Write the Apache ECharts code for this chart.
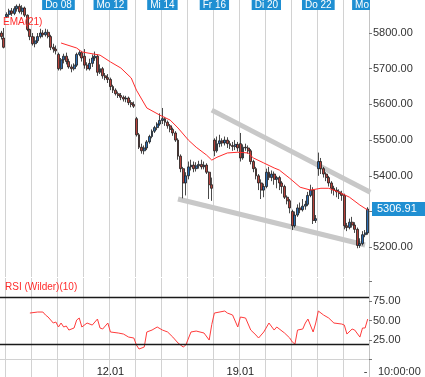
<!DOCTYPE html>
<html><head><meta charset="utf-8">
<script src="https://cdn.jsdelivr.net/npm/echarts@6/dist/echarts.min.js"></script>
<style>html,body{margin:0;padding:0;background:#fff}#c{width:425px;height:377px}</style>
</head><body><div id="c"></div><script>
const dayNames = ['Mo 05','Di 06','Mi 07','Do 08','Fr 09','Mo 12','Di 13','Mi 14','Do 15','Fr 16','Mo 19','Di 20','Mi 21','Do 22','Fr 23'];
const dayDates = ['05.01','06.01','07.01','08.01','09.01','12.01','13.01','14.01','15.01','16.01','19.01','20.01','21.01','22.01','23.01'];
const hours = ['08:00','09:00','10:00','11:00','12:00','13:00','14:00','15:00','16:00','17:00'];
const topLabelDays = ['Do 08','Mo 12','Mi 14','Fr 16','Di 20','Do 22'];
const nextDayLabel = 'Mo 26';
const bottomLabelDates = ['12.01','19.01'];
const priceTicks = [5200,5300,5400,5500,5600,5700,5800];
const rsiTickMarks = [0,25,50,75,100];
const rsiTicks = [25,50,75];
const rsiBands = [80,20];
const lastTimeLabel = '10:00:00';

// [open, close, low, high]
const ohlc = [
[5800,5790,5782,5806],[5786,5760,5757,5814],[5846,5852,5842,5858],[5852,5862,5845,5868],[5862,5855,5848,5870],
[5855,5868,5850,5875],[5868,5875,5860,5880],[5875,5860,5855,5882],[5860,5870,5852,5878],[5870,5850,5845,5874],
[5850,5810,5805,5852],[5810,5790,5780,5812],[5790,5770,5765,5800],[5770,5778,5760,5790],[5778,5790,5772,5800],
[5790,5800,5785,5812],[5800,5795,5788,5808],[5795,5802,5790,5812],[5802,5790,5785,5810],[5790,5760,5752,5795],
[5760,5755,5745,5770],[5755,5750,5740,5765],[5740,5700,5695,5745],[5700,5725,5695,5730],[5725,5735,5715,5742],
[5735,5720,5712,5745],[5720,5705,5700,5728],[5705,5700,5690,5712],[5700,5710,5695,5715],[5710,5740,5705,5745],
[5740,5745,5735,5752],[5745,5730,5720,5750],[5735,5710,5700,5755],[5710,5700,5695,5718],[5700,5715,5695,5728],
[5715,5730,5705,5740],[5730,5735,5722,5748],[5735,5690,5680,5740],[5690,5700,5685,5712],[5700,5680,5672,5705],
[5680,5675,5668,5688],[5675,5670,5660,5685],[5670,5650,5640,5675],[5650,5640,5632,5655],[5640,5630,5625,5645],
[5630,5625,5618,5636],[5625,5620,5612,5632],[5620,5615,5608,5625],[5615,5618,5606,5624],[5618,5605,5598,5622],
[5605,5600,5592,5612],[5600,5595,5590,5608],[5560,5515,5510,5565],[5515,5480,5475,5520],[5480,5470,5462,5490],
[5470,5478,5460,5485],[5478,5495,5472,5500],[5495,5510,5490,5515],[5510,5525,5505,5530],[5525,5535,5520,5540],
[5535,5545,5528,5550],[5545,5555,5540,5575],[5555,5560,5545,5590],[5560,5550,5540,5565],[5550,5540,5532,5555],
[5540,5530,5522,5545],[5530,5520,5512,5535],[5520,5500,5495,5525],[5500,5455,5445,5505],[5455,5420,5410,5460],
[5420,5380,5337,5425],[5380,5400,5345,5410],[5400,5425,5390,5440],[5425,5430,5415,5445],[5430,5420,5410,5440],
[5420,5428,5412,5438],[5428,5432,5420,5442],[5432,5425,5418,5445],[5425,5430,5418,5440],[5430,5410,5405,5435],
[5410,5375,5335,5412],[5375,5365,5330,5395],[5500,5470,5455,5505],[5470,5490,5465,5510],[5490,5498,5480,5515],
[5498,5492,5482,5505],[5492,5500,5485,5510],[5500,5490,5478,5508],[5490,5485,5475,5498],[5485,5482,5470,5495],
[5482,5488,5472,5500],[5488,5478,5468,5495],[5490,5450,5440,5520],[5450,5480,5445,5488],[5480,5478,5470,5490],
[5478,5470,5462,5485],[5470,5440,5432,5475],[5440,5420,5410,5445],[5420,5400,5390,5425],[5400,5380,5360,5405],
[5380,5360,5335,5390],[5360,5370,5340,5378],[5370,5410,5365,5420],[5410,5395,5388,5425],[5395,5405,5385,5415],
[5405,5390,5375,5412],[5390,5395,5365,5400],[5395,5380,5360,5400],[5380,5370,5350,5385],[5370,5340,5335,5375],
[5340,5330,5320,5345],[5330,5310,5295,5335],[5300,5260,5248,5305],[5260,5290,5255,5300],[5290,5310,5285,5320],
[5310,5305,5295,5325],[5305,5315,5300,5335],[5315,5320,5305,5330],[5320,5345,5315,5355],[5345,5360,5340,5375],
[5360,5275,5265,5368],[5275,5280,5268,5290],[5420,5440,5400,5465],[5440,5420,5405,5450],[5420,5405,5395,5425],
[5405,5395,5385,5410],[5395,5380,5370,5400],[5380,5365,5350,5385],[5365,5360,5345,5372],[5360,5355,5340,5368],
[5355,5350,5335,5362],[5350,5345,5330,5358],[5345,5260,5250,5350],[5260,5255,5245,5268],[5255,5270,5250,5280],
[5270,5262,5255,5285],[5262,5250,5240,5270],[5250,5205,5197,5255],[5205,5210,5198,5225],[5210,5235,5205,5245],
[5235,5240,5228,5248],[5240,5306.91,5235,5312]
];

// EMA(21): [bar index, value]
const emaPoints = [
[23,5772],[29,5758],[31,5747],[38,5738],[42,5719],[46,5702],[50,5674],[52,5640],[56,5590],[61,5570],
[65,5556],[68,5534],[72,5500],[75,5480],[79,5458],[81,5444],[83,5452],[87,5464],[91,5466],[95,5464],
[97,5450],[101,5436],[105,5422],[107,5416],[111,5393],[115,5368],[119,5360],[123,5365],[126,5365],
[130,5354],[134,5340],[138,5318],[141,5304]
];

// RSI (Wilder)(10): [bar index, value]
const rsiPoints = [
[11,59.6],[14,60.9],[16,60.9],[17,57.1],[18,54.5],[20,46.8],[21,48.1],[22,41.7],[23,46.8],[24,41.7],
[25,43.0],[26,37.8],[28,40.4],[29,50.6],[30,53.2],[31,41.7],[33,46.8],[35,44.2],[37,51.9],[38,40.4],
[39,39.1],[41,46.8],[42,35.3],[45,34.0],[47,32.7],[49,28.8],[51,27.6],[52,18.6],[53,13.5],[55,16.0],
[56,35.3],[58,37.8],[60,41.7],[62,37.8],[64,35.3],[66,28.8],[68,21.2],[70,16.0],[71,18.6],[73,35.3],
[75,36.5],[78,34.0],[80,25.0],[81,45.0],[82,59.6],[86,62.2],[87,59.6],[89,57.1],[91,41.7],[92,54.5],
[94,53.2],[96,37.8],[98,31.4],[99,27.6],[101,35.3],[103,46.8],[105,37.8],[106,41.7],[109,34.0],[111,27.6],
[112,22.4],[113,19.9],[114,37.8],[116,39.1],[117,46.8],[118,51.9],[120,35.3],[121,46.8],[122,62.2],[124,57.1],
[126,53.2],[128,46.8],[131,45.5],[132,44.2],[133,32.7],[135,39.1],[136,37.8],[138,28.8],[139,40.4],[140,40.4],
[141,51.9]
];

// hand-drawn wedge lines: [bar index, price]
const upperWedge = [[81,5584],[141.5,5354]];
const lowerWedge = [[68,5335],[139.9,5206]];

const categories = [];
dayNames.forEach((d, di) => {
  const hs = di === 0 ? hours.slice(8) : hours;
  hs.forEach(h => categories.push(d + ' ' + h));
});
const dayOf = i => categories[i].slice(0, 5);
const isDayStart = i => i > 0 && dayOf(i) !== dayOf(i - 1);
const dateOf = i => dayDates[dayNames.indexOf(dayOf(i))];

const FONT = 'Liberation Sans, Arial, sans-serif';
const GRID_COLOR = '#d2d2d2';
const BLUE = '#1f8fd2';
const lastClose = ohlc[ohlc.length - 1][1];

const chart = echarts.init(document.getElementById('c'), null, {renderer: 'canvas'});

const splitLine = {show: true, interval: (i) => isDayStart(i), lineStyle: {color: GRID_COLOR, width: 1}};
const PLOT_W = 369;

const option = {
  animation: false,
  backgroundColor: '#fff',
  textStyle: {fontFamily: FONT},
  title: [
    {text: 'EMA(21)', left: 3, top: 17, padding: 0, textStyle: {color: '#ff2b2b', fontSize: 10, fontWeight: 'normal', fontFamily: FONT}},
    {text: 'RSI (Wilder)(10)', left: 5, top: 282, padding: 0, textStyle: {color: '#ff2b2b', fontSize: 10, fontWeight: 'normal', fontFamily: FONT}}
  ],
  grid: [
    {left: 0, top: 0, width: PLOT_W, height: 277},
    {left: 0, top: 278, width: PLOT_W, height: 87},
    {left: 0, top: 365, width: PLOT_W, height: 12}
  ],
  xAxis: [
    {type: 'category', gridIndex: 0, data: categories, position: 'top', boundaryGap: true,
     axisLine: {show: false}, axisTick: {show: false}, splitLine,
     axisLabel: {inside: true, margin: 0, interval: (i) => isDayStart(i) && topLabelDays.includes(dayOf(i)),
       formatter: v => v.slice(0, 5), color: '#fff', backgroundColor: BLUE, fontSize: 10, lineHeight: 10,
       padding: [0, 3, 0, 3], fontFamily: FONT}},
    {type: 'category', gridIndex: 1, data: categories, position: 'top', boundaryGap: true,
     axisLine: {show: true, lineStyle: {color: GRID_COLOR}}, axisTick: {show: false}, axisLabel: {show: false}, splitLine},
    {type: 'category', gridIndex: 2, data: categories, position: 'top', boundaryGap: true,
     axisLine: {show: true, lineStyle: {color: GRID_COLOR}}, axisTick: {show: false}, splitLine,
     axisLabel: {inside: true, margin: 1, interval: (i) => isDayStart(i) && bottomLabelDates.includes(dateOf(i)),
       formatter: v => dayDates[dayNames.indexOf(v.slice(0, 5))], color: '#222', fontSize: 11, fontFamily: FONT}}
  ],
  yAxis: [
    {type: 'value', gridIndex: 0, position: 'right', min: 5116.5, max: 5892.5, scale: true,
     splitLine: {show: false}, axisLine: {show: true, lineStyle: {color: '#c4c4c4'}},
     axisTick: {show: true, length: 3, customValues: priceTicks, lineStyle: {color: '#777'}},
     axisLabel: {customValues: priceTicks, formatter: v => v.toFixed(2), color: '#333', fontSize: 11, margin: 4, fontFamily: FONT}},
    {type: 'value', gridIndex: 1, position: 'right', min: -7, max: 104.5,
     splitLine: {show: false}, axisLine: {show: true, lineStyle: {color: '#c4c4c4'}},
     axisTick: {show: true, length: 3, customValues: rsiTickMarks, lineStyle: {color: '#777'}},
     axisLabel: {customValues: rsiTicks, formatter: v => v.toFixed(2), color: '#333', fontSize: 11, margin: 4, fontFamily: FONT}},
    {type: 'value', gridIndex: 2, position: 'right', min: 0, max: 1,
     splitLine: {show: false}, axisLine: {show: true, lineStyle: {color: '#c4c4c4'}}, axisTick: {show: false}, axisLabel: {show: false}}
  ],
  series: [
    {type: 'line', xAxisIndex: 0, yAxisIndex: 0, data: upperWedge, symbol: 'none', z: 1, silent: true,
     lineStyle: {color: '#c8c8c8', width: 5}},
    {type: 'line', xAxisIndex: 0, yAxisIndex: 0, data: lowerWedge, symbol: 'none', z: 1, silent: true,
     lineStyle: {color: '#c8c8c8', width: 5}},
    {type: 'candlestick', xAxisIndex: 0, yAxisIndex: 0, data: ohlc, z: 2, barWidth: 2.4,
     itemStyle: {color: '#2c6db3', color0: '#b8433d', borderColor: '#1c1c1c', borderColor0: '#1c1c1c', borderWidth: 0.8}},
    {type: 'line', xAxisIndex: 0, yAxisIndex: 0, data: emaPoints, symbol: 'none', z: 3, connectNulls: true,
     lineStyle: {color: '#ff2b2b', width: 1}},
    {type: 'line', xAxisIndex: 1, yAxisIndex: 1, data: rsiPoints, symbol: 'none', z: 3,
     lineStyle: {color: '#ff3b3b', width: 1},
     markLine: {silent: true, symbol: 'none', animation: false, label: {show: false},
       lineStyle: {color: '#1a1a1a', width: 1.3, type: 'solid'},
       data: rsiBands.map(v => ({yAxis: v}))}}
  ]
};
chart.setOption(option);

// label of the day that starts right at the right edge, last-price box and last-bar time
const lastIdx = categories.length - 1;
const xLast = chart.convertToPixel({xAxisIndex: 0}, lastIdx);
const band = xLast - chart.convertToPixel({xAxisIndex: 0}, lastIdx - 1);
const xNext = xLast + band;
const yLast = chart.convertToPixel({yAxisIndex: 0}, lastClose);
chart.setOption({
  graphic: [
    {type: 'text', x: xNext - band / 2, y: 0, z: 50, style: {text: nextDayLabel, fill: '#fff', backgroundColor: BLUE,
      font: '10px ' + FONT, align: 'center', verticalAlign: 'top', padding: [0, 3, 0, 3], lineHeight: 10}},
    {type: 'rect', shape: {x: PLOT_W + 1, y: 0, width: 60, height: 12}, style: {fill: '#fff'}, z: 60},
    {type: 'rect', shape: {x: PLOT_W + 3, y: Math.round(yLast) - 7, width: 425 - PLOT_W - 3, height: 14}, style: {fill: BLUE}, z: 100},
    {type: 'text', x: PLOT_W + 8, y: Math.round(yLast), z: 101, style: {text: lastClose.toFixed(2), fill: '#fff',
      font: '11px ' + FONT, verticalAlign: 'middle'}},
    {type: 'text', x: xLast - 2, y: 366, z: 50, style: {text: '-', fill: '#333', font: '11px ' + FONT, align: 'center'}},
    {type: 'text', x: PLOT_W + 9, y: 366, z: 50, style: {text: lastTimeLabel, fill: '#333', font: '11px ' + FONT}}
  ]
});
</script></body></html>
